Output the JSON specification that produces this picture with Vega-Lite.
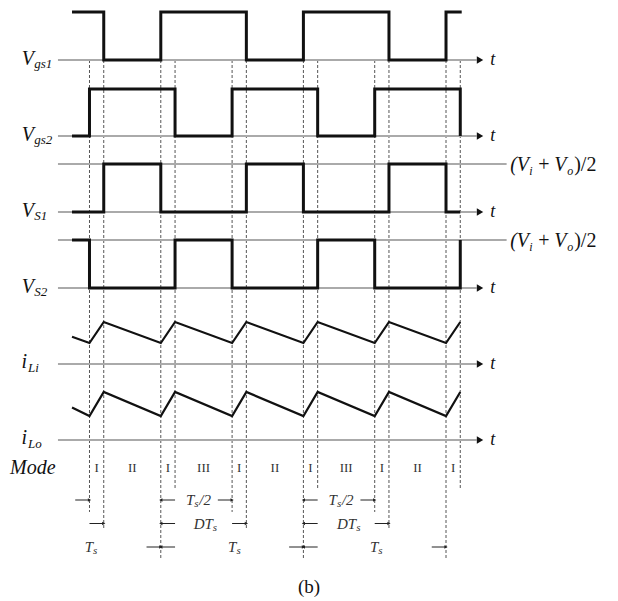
{
  "$schema": "https://vega.github.io/schema/vega-lite/v6.json",
  "width": 618,
  "height": 601,
  "autosize": {"type": "none"},
  "padding": 0,
  "background": "white",
  "config": {"view": {"stroke": null}, "text": {"font": "Liberation Serif", "color": "#111"}},
  "datasets": {
    "waves": [
      {"signal": "Vgs1", "t": -2.45, "v": 1}, {"signal": "Vgs1", "t": 2, "v": 0}, {"signal": "Vgs1", "t": 10, "v": 1},
      {"signal": "Vgs1", "t": 22, "v": 0}, {"signal": "Vgs1", "t": 30, "v": 1}, {"signal": "Vgs1", "t": 42, "v": 0},
      {"signal": "Vgs1", "t": 50, "v": 1}, {"signal": "Vgs1", "t": 52.2, "v": 1},
      {"signal": "Vgs2", "t": -2.45, "v": 0}, {"signal": "Vgs2", "t": 0, "v": 1}, {"signal": "Vgs2", "t": 12, "v": 0},
      {"signal": "Vgs2", "t": 20, "v": 1}, {"signal": "Vgs2", "t": 32, "v": 0}, {"signal": "Vgs2", "t": 40, "v": 1},
      {"signal": "Vgs2", "t": 52, "v": 0},
      {"signal": "VS1", "t": -2.45, "v": 0}, {"signal": "VS1", "t": 2, "v": 1}, {"signal": "VS1", "t": 10, "v": 0},
      {"signal": "VS1", "t": 22, "v": 1}, {"signal": "VS1", "t": 30, "v": 0}, {"signal": "VS1", "t": 42, "v": 1},
      {"signal": "VS1", "t": 50, "v": 0}, {"signal": "VS1", "t": 52, "v": 0},
      {"signal": "VS2", "t": -2.45, "v": 1}, {"signal": "VS2", "t": 0, "v": 0}, {"signal": "VS2", "t": 12, "v": 1},
      {"signal": "VS2", "t": 20, "v": 0}, {"signal": "VS2", "t": 32, "v": 1}, {"signal": "VS2", "t": 40, "v": 0},
      {"signal": "VS2", "t": 52, "v": 1},
      {"signal": "iLi", "t": -2.45, "v": 1.3}, {"signal": "iLi", "t": 0, "v": 1}, {"signal": "iLi", "t": 2, "v": 2},
      {"signal": "iLi", "t": 10, "v": 1}, {"signal": "iLi", "t": 12, "v": 2}, {"signal": "iLi", "t": 20, "v": 1},
      {"signal": "iLi", "t": 22, "v": 2}, {"signal": "iLi", "t": 30, "v": 1}, {"signal": "iLi", "t": 32, "v": 2},
      {"signal": "iLi", "t": 40, "v": 1}, {"signal": "iLi", "t": 42, "v": 2}, {"signal": "iLi", "t": 50, "v": 1},
      {"signal": "iLi", "t": 52, "v": 2},
      {"signal": "iLo", "t": -2.45, "v": 1.35}, {"signal": "iLo", "t": 0, "v": 1}, {"signal": "iLo", "t": 2, "v": 2},
      {"signal": "iLo", "t": 10, "v": 1}, {"signal": "iLo", "t": 12, "v": 2}, {"signal": "iLo", "t": 20, "v": 1},
      {"signal": "iLo", "t": 22, "v": 2}, {"signal": "iLo", "t": 30, "v": 1}, {"signal": "iLo", "t": 32, "v": 2},
      {"signal": "iLo", "t": 40, "v": 1}, {"signal": "iLo", "t": 42, "v": 2}, {"signal": "iLo", "t": 50, "v": 1},
      {"signal": "iLo", "t": 52, "v": 2}
    ],
    "lanes": [
      {"signal": "Vgs1", "main": "V", "sub": "gs1"},
      {"signal": "Vgs2", "main": "V", "sub": "gs2"},
      {"signal": "VS1", "main": "V", "sub": "S1"},
      {"signal": "VS2", "main": "V", "sub": "S2"},
      {"signal": "iLi", "main": "i", "sub": "Li"},
      {"signal": "iLo", "main": "i", "sub": "Lo"}
    ],
    "events": [
      {"t": 0, "edge": "Vgs2 on"}, {"t": 20, "edge": "Vgs2 on"}, {"t": 40, "edge": "Vgs2 on"},
      {"t": 2, "edge": "Vgs1 off"}, {"t": 22, "edge": "Vgs1 off"}, {"t": 42, "edge": "Vgs1 off"},
      {"t": 10, "edge": "Vgs1 on"}, {"t": 30, "edge": "Vgs1 on"}, {"t": 50, "edge": "Vgs1 on"},
      {"t": 12, "edge": "Vgs2 off"}, {"t": 32, "edge": "Vgs2 off"}, {"t": 52, "edge": "Vgs2 off"}
    ],
    "modes": [
      {"t": 1, "mode": "I"}, {"t": 6, "mode": "II"}, {"t": 11, "mode": "I"}, {"t": 16, "mode": "III"},
      {"t": 21, "mode": "I"}, {"t": 26, "mode": "II"}, {"t": 31, "mode": "I"}, {"t": 36, "mode": "III"},
      {"t": 41, "mode": "I"}, {"t": 46, "mode": "II"}, {"t": 51, "mode": "I"}
    ],
    "arrows": [
      {"row": "half", "from": -2, "to": 0}, {"row": "half", "from": 12, "to": 10}, {"row": "half", "from": 18, "to": 20},
      {"row": "half", "from": 32, "to": 30}, {"row": "half", "from": 38, "to": 40},
      {"row": "duty", "from": 0, "to": 2}, {"row": "duty", "from": 12, "to": 10}, {"row": "duty", "from": 20, "to": 22},
      {"row": "duty", "from": 32, "to": 30}, {"row": "duty", "from": 40, "to": 42},
      {"row": "period", "from": 8, "to": 10}, {"row": "period", "from": 12, "to": 10}, {"row": "period", "from": 28, "to": 30},
      {"row": "period", "from": 32, "to": 30}, {"row": "period", "from": 48, "to": 50}
    ],
    "spans": [
      {"row": "half", "t": 14.7, "pre": "T", "sub": "s", "post": "/2"},
      {"row": "half", "t": 34.7, "pre": "T", "sub": "s", "post": "/2"},
      {"row": "duty", "t": 17.3, "pre": "DT", "sub": "s", "post": ""},
      {"row": "duty", "t": 37.4, "pre": "DT", "sub": "s", "post": ""},
      {"row": "period", "t": 0.5, "pre": "T", "sub": "s", "post": ""},
      {"row": "period", "t": 20.6, "pre": "T", "sub": "s", "post": ""},
      {"row": "period", "t": 40.5, "pre": "T", "sub": "s", "post": ""}
    ]
  },
  "resolve": {"scale": {"y": "independent"}},
  "layer": [
    {
      "layer": [
        {
          "data": {"name": "events"},
          "transform": [{"filter": "datum.edge === 'Vgs2 on'"}],
          "mark": {"type": "rule", "color": "#555", "strokeWidth": 1, "strokeDash": [3, 2]},
          "encoding": {
            "x": {"field": "t", "type": "quantitative", "scale": {"domain": [-12.55, 74.12], "nice": false, "zero": false}, "axis": null},
            "y": {"datum": 0, "type": "quantitative", "scale": {"domain": [-0.7895, 7.1184], "reverse": true, "nice": false, "zero": false}, "axis": null},
            "y2": {"datum": 5.947}
          }
        },
        {
          "data": {"name": "events"},
          "transform": [{"filter": "datum.edge === 'Vgs1 off'"}],
          "mark": {"type": "rule", "color": "#555", "strokeWidth": 1, "strokeDash": [3, 2]},
          "encoding": {"x": {"field": "t", "type": "quantitative"}, "y": {"datum": 0, "type": "quantitative"}, "y2": {"datum": 6.184}}
        },
        {
          "data": {"name": "events"},
          "transform": [{"filter": "datum.edge === 'Vgs1 on'"}],
          "mark": {"type": "rule", "color": "#555", "strokeWidth": 1, "strokeDash": [3, 2]},
          "encoding": {"x": {"field": "t", "type": "quantitative"}, "y": {"datum": 0, "type": "quantitative"}, "y2": {"datum": 6.553}}
        },
        {
          "data": {"name": "events"},
          "transform": [{"filter": "datum.edge === 'Vgs2 off'"}],
          "mark": {"type": "rule", "color": "#555", "strokeWidth": 1, "strokeDash": [3, 2]},
          "encoding": {"x": {"field": "t", "type": "quantitative"}, "y": {"datum": 0, "type": "quantitative"}, "y2": {"datum": 5.632}}
        },
        {
          "data": {"values": [{"label": "Mode"}]},
          "mark": {"type": "text", "fontStyle": "italic", "fontSize": 20, "align": "left", "baseline": "middle"},
          "encoding": {"x": {"datum": -11.15}, "y": {"datum": 5.368, "type": "quantitative"}, "text": {"field": "label"}}
        },
        {
          "data": {"name": "modes"},
          "mark": {"type": "text", "fontSize": 13, "align": "center", "baseline": "middle", "color": "#333"},
          "encoding": {"x": {"field": "t", "type": "quantitative"}, "y": {"datum": 5.368, "type": "quantitative"}, "text": {"field": "mode"}}
        },
        {
          "data": {"values": [{"label": "(b)"}]},
          "mark": {"type": "text", "fontSize": 19, "align": "center", "baseline": "middle"},
          "encoding": {"x": {"datum": 30.8}, "y": {"datum": 6.934, "type": "quantitative"}, "text": {"field": "label"}}
        }
      ]
    },
    {
      "encoding": {
        "y": {"field": "signal", "type": "nominal", "scale": {"type": "point", "domain": ["Vgs1", "Vgs2", "VS1", "VS2", "iLi", "iLo"], "range": [60, 440], "padding": 0}, "axis": null}
      },
      "layer": [
        {
          "data": {"name": "lanes"},
          "mark": {"type": "rule", "color": "#aaaaaa", "strokeWidth": 2},
          "encoding": {"x": {"datum": -4.42}, "x2": {"datum": 54.3}}
        },
        {
          "data": {"name": "lanes"},
          "mark": {"type": "point", "shape": "triangle-right", "filled": true, "color": "#111", "size": 55, "opacity": 1},
          "encoding": {"x": {"datum": 54.77}}
        },
        {
          "data": {"name": "lanes"},
          "mark": {"type": "text", "text": "t", "fontStyle": "italic", "fontSize": 18, "align": "left", "baseline": "middle"},
          "encoding": {"x": {"datum": 56.2}}
        },
        {
          "data": {"name": "lanes"},
          "transform": [{"filter": "datum.main === 'V'"}],
          "mark": {"type": "text", "fontStyle": "italic", "fontSize": 20, "align": "right", "baseline": "alphabetic", "dy": 5},
          "encoding": {"x": {"datum": -7.78}, "text": {"field": "main"}}
        },
        {
          "data": {"name": "lanes"},
          "transform": [{"filter": "datum.main === 'V'"}],
          "mark": {"type": "text", "fontStyle": "italic", "fontSize": 13, "align": "left", "baseline": "alphabetic", "dy": 8},
          "encoding": {"x": {"datum": -7.74}, "text": {"field": "sub"}}
        },
        {
          "data": {"name": "lanes"},
          "transform": [{"filter": "datum.main === 'i'"}],
          "mark": {"type": "text", "fontStyle": "italic", "fontSize": 20, "align": "right", "baseline": "alphabetic", "dy": 4},
          "encoding": {"x": {"datum": -8.77}, "text": {"field": "main"}}
        },
        {
          "data": {"name": "lanes"},
          "transform": [{"filter": "datum.main === 'i'"}],
          "mark": {"type": "text", "fontStyle": "italic", "fontSize": 13, "align": "left", "baseline": "alphabetic", "dy": 8},
          "encoding": {"x": {"datum": -8.63}, "text": {"field": "sub"}}
        },
        {
          "data": {"name": "lanes"},
          "transform": [{"filter": "datum.signal === 'VS1' || datum.signal === 'VS2'"}],
          "mark": {"type": "rule", "color": "#aaaaaa", "strokeWidth": 2, "yOffset": -48},
          "encoding": {"x": {"datum": -4.42}, "x2": {"datum": 58.5}}
        },
        {
          "data": {"name": "lanes"},
          "transform": [{"filter": "datum.signal === 'VS1' || datum.signal === 'VS2'"}],
          "mark": {"type": "text", "text": "(V", "fontStyle": "italic", "fontSize": 20, "align": "left", "baseline": "alphabetic", "dy": -41},
          "encoding": {"x": {"datum": 59}}
        },
        {
          "data": {"name": "lanes"},
          "transform": [{"filter": "datum.signal === 'VS1' || datum.signal === 'VS2'"}],
          "mark": {"type": "text", "text": "i", "fontStyle": "italic", "fontSize": 12, "align": "left", "baseline": "alphabetic", "dy": -37, "dx": 19},
          "encoding": {"x": {"datum": 59}}
        },
        {
          "data": {"name": "lanes"},
          "transform": [{"filter": "datum.signal === 'VS1' || datum.signal === 'VS2'"}],
          "mark": {"type": "text", "text": "+", "fontSize": 20, "align": "left", "baseline": "alphabetic", "dy": -41, "dx": 28},
          "encoding": {"x": {"datum": 59}}
        },
        {
          "data": {"name": "lanes"},
          "transform": [{"filter": "datum.signal === 'VS1' || datum.signal === 'VS2'"}],
          "mark": {"type": "text", "text": "V", "fontStyle": "italic", "fontSize": 20, "align": "left", "baseline": "alphabetic", "dy": -41, "dx": 44},
          "encoding": {"x": {"datum": 59}}
        },
        {
          "data": {"name": "lanes"},
          "transform": [{"filter": "datum.signal === 'VS1' || datum.signal === 'VS2'"}],
          "mark": {"type": "text", "text": "o", "fontStyle": "italic", "fontSize": 12, "align": "left", "baseline": "alphabetic", "dy": -37, "dx": 57},
          "encoding": {"x": {"datum": 59}}
        },
        {
          "data": {"name": "lanes"},
          "transform": [{"filter": "datum.signal === 'VS1' || datum.signal === 'VS2'"}],
          "mark": {"type": "text", "text": ")/2", "fontSize": 20, "align": "left", "baseline": "alphabetic", "dy": -41, "dx": 64},
          "encoding": {"x": {"datum": 59}}
        }
      ]
    },
    {
      "data": {"name": "waves"},
      "transform": [{"filter": "datum.signal === 'Vgs1'"}],
      "mark": {"type": "line", "interpolate": "step-after", "color": "#111", "strokeWidth": 3, "strokeJoin": "miter"},
      "encoding": {
        "x": {"field": "t", "type": "quantitative"},
        "y": {"field": "v", "type": "quantitative", "scale": {"domain": [-11.2708, 1.25], "nice": false, "zero": false}, "axis": null}
      }
    },
    {
      "data": {"name": "waves"},
      "transform": [{"filter": "datum.signal === 'Vgs2'"}],
      "mark": {"type": "line", "interpolate": "step-after", "color": "#111", "strokeWidth": 3, "strokeJoin": "miter"},
      "encoding": {
        "x": {"field": "t", "type": "quantitative"},
        "y": {"field": "v", "type": "quantitative", "scale": {"domain": [-9.8936, 2.8936], "nice": false, "zero": false}, "axis": null}
      }
    },
    {
      "data": {"name": "waves"},
      "transform": [{"filter": "datum.signal === 'VS1'"}],
      "mark": {"type": "line", "interpolate": "step-after", "color": "#111", "strokeWidth": 3, "strokeJoin": "miter"},
      "encoding": {
        "x": {"field": "t", "type": "quantitative"},
        "y": {"field": "v", "type": "quantitative", "scale": {"domain": [-8.1042, 4.4167], "nice": false, "zero": false}, "axis": null}
      }
    },
    {
      "data": {"name": "waves"},
      "transform": [{"filter": "datum.signal === 'VS2'"}],
      "mark": {"type": "line", "interpolate": "step-after", "color": "#111", "strokeWidth": 3, "strokeJoin": "miter"},
      "encoding": {
        "x": {"field": "t", "type": "quantitative"},
        "y": {"field": "v", "type": "quantitative", "scale": {"domain": [-6.5208, 6.0], "nice": false, "zero": false}, "axis": null}
      }
    },
    {
      "data": {"name": "waves"},
      "transform": [{"filter": "datum.signal === 'iLi'"}],
      "mark": {"type": "line", "color": "#111", "strokeWidth": 2.2},
      "encoding": {
        "x": {"field": "t", "type": "quantitative"},
        "y": {"field": "v", "type": "quantitative", "scale": {"domain": [-11.2857, 17.3333], "nice": false, "zero": false}, "axis": null}
      }
    },
    {
      "data": {"name": "waves"},
      "transform": [{"filter": "datum.signal === 'iLo'"}],
      "mark": {"type": "line", "color": "#111", "strokeWidth": 2.2},
      "encoding": {
        "x": {"field": "t", "type": "quantitative"},
        "y": {"field": "v", "type": "quantitative", "scale": {"domain": [-6.7083, 18.3333], "nice": false, "zero": false}, "axis": null}
      }
    },
    {
      "encoding": {
        "y": {"field": "row", "type": "nominal", "scale": {"type": "point", "domain": ["half", "duty", "period"], "range": [500, 547], "padding": 0}, "axis": null}
      },
      "layer": [
        {
          "data": {"name": "arrows"},
          "mark": {"type": "rule", "color": "#222", "strokeWidth": 1},
          "encoding": {"x": {"field": "from", "type": "quantitative"}, "x2": {"field": "to"}}
        },
        {
          "data": {"name": "arrows"},
          "mark": {"type": "point", "filled": true, "color": "#222", "size": 14, "opacity": 1},
          "encoding": {
            "x": {"field": "to", "type": "quantitative"},
            "shape": {"condition": {"test": "datum.to > datum.from", "value": "triangle-right"}, "value": "triangle-left"}
          }
        },
        {
          "data": {"name": "spans"},
          "mark": {"type": "text", "fontStyle": "italic", "fontSize": 15, "align": "right", "baseline": "middle", "dx": 0, "color": "#333"},
          "encoding": {"x": {"field": "t", "type": "quantitative"}, "text": {"field": "pre"}}
        },
        {
          "data": {"name": "spans"},
          "mark": {"type": "text", "fontStyle": "italic", "fontSize": 11, "align": "left", "baseline": "middle", "dx": 0, "dy": 4, "color": "#333"},
          "encoding": {"x": {"field": "t", "type": "quantitative"}, "text": {"field": "sub"}}
        },
        {
          "data": {"name": "spans"},
          "mark": {"type": "text", "fontStyle": "italic", "fontSize": 15, "align": "left", "baseline": "middle", "dx": 5, "color": "#333"},
          "encoding": {"x": {"field": "t", "type": "quantitative"}, "text": {"field": "post"}}
        }
      ]
    }
  ]
}
